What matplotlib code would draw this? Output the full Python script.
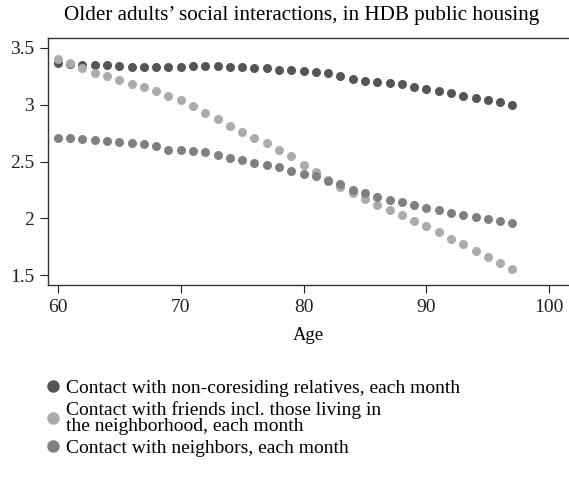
import numpy as np
import matplotlib.pyplot as plt
import matplotlib as mpl
from matplotlib.lines import Line2D

mpl.rcParams.update({
    'font.family': ['Liberation Serif', 'DejaVu Serif'],
    'font.size': 14,
})

ages = np.arange(60, 98)

relatives = [3.37, 3.36, 3.35, 3.35, 3.35, 3.34, 3.33, 3.33, 3.33, 3.33,
             3.33, 3.34, 3.34, 3.34, 3.33, 3.33, 3.32, 3.32, 3.31, 3.31,
             3.30, 3.29, 3.28, 3.25, 3.23, 3.21, 3.20, 3.19, 3.18, 3.155,
             3.14, 3.12, 3.10, 3.08, 3.06, 3.04, 3.02, 3.00]
friends = [3.40, 3.365, 3.32, 3.28, 3.25, 3.22, 3.18, 3.155, 3.12, 3.08,
           3.04, 2.99, 2.93, 2.87, 2.81, 2.76, 2.71, 2.66, 2.60, 2.55,
           2.47, 2.41, 2.34, 2.28, 2.22, 2.17, 2.12, 2.07, 2.03, 1.98,
           1.93, 1.88, 1.82, 1.77, 1.71, 1.66, 1.61, 1.55]
neighbors = [2.71, 2.71, 2.70, 2.69, 2.68, 2.67, 2.66, 2.65, 2.64, 2.605,
             2.60, 2.59, 2.58, 2.56, 2.53, 2.51, 2.49, 2.47, 2.45, 2.42,
             2.39, 2.37, 2.33, 2.30, 2.25, 2.22, 2.19, 2.16, 2.14, 2.12,
             2.09, 2.07, 2.05, 2.03, 2.01, 1.99, 1.98, 1.96]

labels = ['Contact with non-coresiding relatives, each month',
          'Contact with friends incl. those living in\nthe neighborhood, each month',
          'Contact with neighbors, each month']
colors = ['#555555', '#ababab', '#808080']

fig = plt.figure(figsize=(5.69, 4.8), dpi=100)
ax = fig.add_axes([0.0844, 0.406, 0.9156, 0.515])

for y, c in zip([relatives, friends, neighbors], colors):
    ax.scatter(ages, y, s=42, color=c, linewidths=0, zorder=3)

ax.set_xlim(59.2, 101.6)
ax.set_ylim(1.412, 3.588)
ax.set_xticks([60, 70, 80, 90, 100])
ax.set_yticks([1.5, 2, 2.5, 3, 3.5])
ax.set_yticklabels(['1.5', '2', '2.5', '3', '3.5'])
ax.tick_params(direction='out', length=6, width=0.8, colors='#222222',
               labelsize=14, pad=4)
ax.spines['right'].set_visible(False)
for s in ['left', 'bottom', 'top']:
    ax.spines[s].set_color('#333333')
    ax.spines[s].set_linewidth(1.0)
ax.set_xlabel('Age', fontsize=13.5, labelpad=8)
fig.text(0.53, 0.968, 'Older adults\u2019 social interactions, in HDB public housing',
         ha='center', va='center', fontsize=15.2)

handles = [Line2D([], [], marker='o', linestyle='none', markersize=9,
                  markerfacecolor=c, markeredgewidth=0) for c in colors]
leg = fig.legend(handles, labels, loc='upper left', bbox_to_anchor=(0.062, 0.226),
                 frameon=False, handletextpad=0.2, labelspacing=0.22,
                 fontsize=14, handlelength=1.0, borderaxespad=0)
for t in leg.get_texts():
    t.set_linespacing(0.95)

fig.savefig('out.png', dpi=100)
